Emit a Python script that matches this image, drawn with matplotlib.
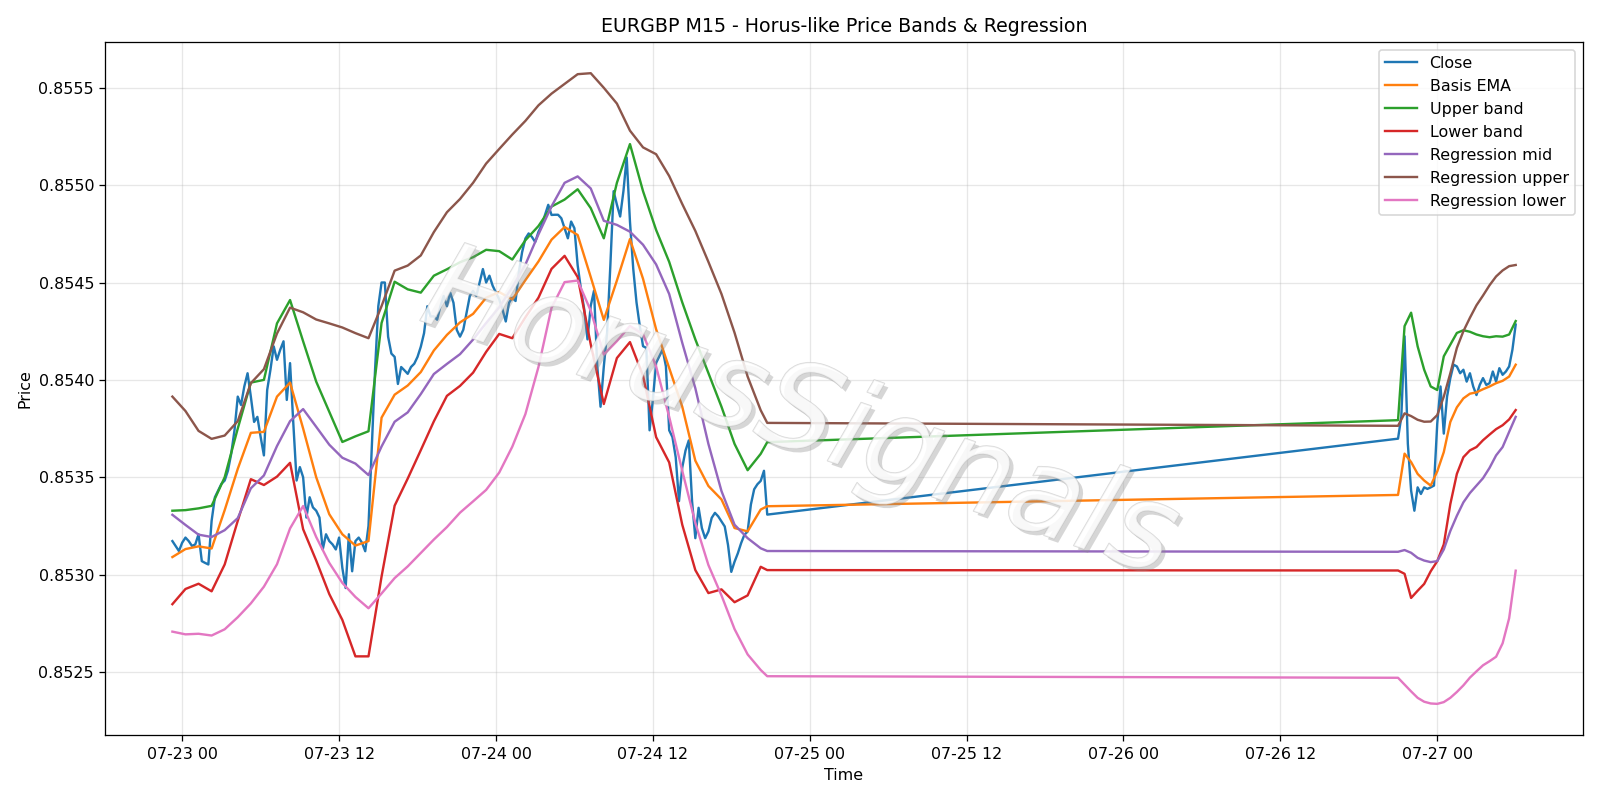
import numpy as np
import pandas as pd
import matplotlib
matplotlib.use("Agg")
import matplotlib.pyplot as plt
import matplotlib.dates as mdates
import matplotlib.patheffects as pe

#  close, 15 min bars, first block (07-22 23:15 -> 07-24 20:45)
close_1 = [
    0.853172, 0.853147, 0.853121, 0.853164, 0.85319, 0.853172, 0.853147, 0.853155, 0.853207, 0.853069,
    0.85306, 0.853052, 0.853276, 0.853397, 0.853431, 0.853466, 0.853483, 0.853534, 0.853621, 0.853741,
    0.853914, 0.853871, 0.853966, 0.854034, 0.853914, 0.853784, 0.85381, 0.853707, 0.853612, 0.853948,
    0.854052, 0.854172, 0.854103, 0.854155, 0.854198, 0.853897, 0.854086, 0.853776, 0.853483, 0.853552,
    0.8535, 0.853293, 0.853397, 0.853345, 0.853328, 0.853293, 0.853129, 0.853207, 0.853172, 0.853155,
    0.853129, 0.85319, 0.853034, 0.852931, 0.853207, 0.853017, 0.853172, 0.85319, 0.853164, 0.85312,
    0.85325, 0.853649, 0.854049, 0.854378, 0.8545, 0.8545, 0.854222, 0.854135, 0.854118, 0.853979,
    0.854066, 0.854049, 0.854031, 0.854066, 0.854083, 0.854118, 0.85417, 0.85424, 0.854378, 0.854326,
    0.854326, 0.854309, 0.854378, 0.854431, 0.854378, 0.854448, 0.854396, 0.854257, 0.854222, 0.854257,
    0.854344, 0.854431, 0.854457, 0.854431, 0.8545, 0.854569, 0.8545, 0.854535, 0.854483, 0.854448,
    0.854413, 0.854361, 0.8543, 0.854396, 0.854422, 0.854405, 0.854552, 0.854656, 0.854726, 0.854752,
    0.854734, 0.854708, 0.85476, 0.854795, 0.854847, 0.854899, 0.854847, 0.854848, 0.854848, 0.85483,
    0.854779, 0.854727, 0.854813, 0.854779, 0.854588, 0.854467, 0.854363, 0.854208, 0.854381, 0.854458,
    0.854069, 0.853862, 0.854069, 0.854242, 0.854588, 0.854969, 0.8549, 0.854839, 0.854969, 0.855142,
    0.854813, 0.854571, 0.854398, 0.854277, 0.854173, 0.854164, 0.853741, 0.853896, 0.854087, 0.854121,
    0.854156, 0.854069, 0.853741, 0.853706, 0.853602, 0.853377, 0.85355, 0.853637, 0.853689, 0.853377,
    0.853187, 0.853343, 0.853239, 0.853187, 0.853221, 0.853291, 0.853317, 0.853299, 0.853273, 0.853247,
    0.853152, 0.853014, 0.853066, 0.853109, 0.853161, 0.853204, 0.853221, 0.85336, 0.853438, 0.853464,
    0.853481, 0.853533, 0.853308,
]
#  close, second block (07-26 21:00 -> 07-27 06:00)
close_2 = [
    0.853698, 0.85381, 0.854224, 0.853672, 0.853431, 0.853328, 0.853448, 0.853414, 0.853448, 0.85344,
    0.853448, 0.853457, 0.853776, 0.853966, 0.853724, 0.853914, 0.854009, 0.854078, 0.854069, 0.854034,
    0.854052, 0.853991, 0.854034, 0.853966, 0.853922, 0.853974, 0.854009, 0.853974, 0.853983, 0.854043,
    0.853991, 0.85406, 0.854026, 0.854043, 0.854069, 0.854155, 0.854284,
]

#  indicators: hourly in first block (+ last bar), half-hourly in second block
basis_ema = [
    0.85309, 0.853131, 0.853145, 0.853134, 0.853331, 0.853543, 0.853728, 0.853733, 0.853914, 0.853986,
    0.85375, 0.8535, 0.85331, 0.853207, 0.853149, 0.853172, 0.853806, 0.853924, 0.853971, 0.85404,
    0.854151, 0.854231, 0.854295, 0.854339, 0.854422, 0.854451, 0.854413, 0.854512, 0.854608, 0.85472,
    0.854785, 0.854744, 0.854528, 0.854308, 0.85451, 0.854723, 0.854519, 0.85426, 0.854061, 0.853862,
    0.853585, 0.853455, 0.853386, 0.853239, 0.853222, 0.853334, 0.853351,
    0.853409, 0.853621, 0.853578, 0.853517, 0.853483, 0.853457, 0.85353, 0.853629, 0.853784, 0.853859,
    0.853905, 0.853929, 0.853936, 0.853952, 0.853966, 0.853983, 0.853995, 0.854017, 0.854078,
]
upper_band = [
    0.853328, 0.853331, 0.85334, 0.853353, 0.8535, 0.85375, 0.853986, 0.8540, 0.85429, 0.85441,
    0.854198, 0.853991, 0.853836, 0.853681, 0.85371, 0.853736, 0.854292, 0.854504, 0.854465, 0.854448,
    0.854535, 0.854568, 0.854604, 0.85463, 0.854668, 0.854661, 0.854618, 0.854717, 0.85479, 0.85489,
    0.854926, 0.854979, 0.854882, 0.854727, 0.855012, 0.855211, 0.854969, 0.85477, 0.854606, 0.854398,
    0.854208, 0.854035, 0.853862, 0.853671, 0.853536, 0.85362, 0.85368,
    0.853793, 0.854276, 0.854345, 0.854172, 0.854052, 0.853966, 0.853948, 0.854121, 0.854181, 0.854241,
    0.854255, 0.854247, 0.854233, 0.854224, 0.854219, 0.854224, 0.854222, 0.854233, 0.854302,
]
lower_band = [
    0.852848, 0.852926, 0.852953, 0.852914, 0.853052, 0.853276, 0.85349, 0.85346, 0.853503, 0.853574,
    0.853233, 0.853072, 0.8529, 0.852767, 0.85258, 0.85258, 0.85299, 0.853354, 0.853493, 0.853639,
    0.853787, 0.853918, 0.853969, 0.854037, 0.854144, 0.854236, 0.854214, 0.854321, 0.854422, 0.85457,
    0.854637, 0.854528, 0.854182, 0.853876, 0.854112, 0.854194, 0.854021, 0.853706, 0.853576, 0.853256,
    0.853023, 0.852905, 0.852924, 0.852858, 0.852893, 0.85304, 0.853023,
    0.853021, 0.853004, 0.85288, 0.852917, 0.852952, 0.853017, 0.853069, 0.853155, 0.853362, 0.853517,
    0.853603, 0.853638, 0.853655, 0.85369, 0.853719, 0.853747, 0.853767, 0.853797, 0.853845,
]
reg_mid = [
    0.853307, 0.853255, 0.853205, 0.853193, 0.853228, 0.85329, 0.853443, 0.853509, 0.85366, 0.853788,
    0.85385, 0.853759, 0.853667, 0.8536, 0.85357, 0.853511, 0.853658, 0.853785, 0.853833, 0.853927,
    0.85403, 0.854082, 0.854132, 0.854207, 0.854292, 0.854373, 0.854476, 0.854592, 0.854747, 0.854891,
    0.855012, 0.855045, 0.854983, 0.854817, 0.854796, 0.854761, 0.854694, 0.854593, 0.854441, 0.85419,
    0.853957, 0.853671, 0.853429, 0.853256, 0.853187, 0.853135, 0.853121,
    0.853117, 0.853126, 0.853112, 0.853086, 0.853072, 0.853064, 0.853069, 0.853129, 0.853224, 0.853302,
    0.853371, 0.853419, 0.853457, 0.853495, 0.853548, 0.853612, 0.853655, 0.853733, 0.85381,
]
reg_upper = [
    0.853914, 0.85384, 0.853738, 0.853697, 0.853714, 0.853788, 0.853983, 0.854055, 0.854238, 0.854371,
    0.854347, 0.85431, 0.85429, 0.854269, 0.85424, 0.854214, 0.854379, 0.854561, 0.854587, 0.854639,
    0.854759, 0.854861, 0.854929, 0.855012, 0.855111, 0.855186, 0.85526, 0.85533, 0.85541, 0.85547,
    0.85552, 0.85557, 0.855575, 0.8555, 0.855419, 0.85528, 0.855194, 0.855159, 0.855047, 0.854903,
    0.854765, 0.854606, 0.854441, 0.854242, 0.854017, 0.853844, 0.853779,
    0.853764, 0.853828, 0.853814, 0.853795, 0.853785, 0.853786, 0.853819, 0.853914, 0.854034, 0.854164,
    0.85425, 0.854319, 0.854383, 0.854433, 0.854486, 0.854531, 0.854562, 0.854584, 0.85459,
]
reg_lower = [
    0.852707, 0.852693, 0.852696, 0.852687, 0.852719, 0.852781, 0.852852, 0.852938, 0.853053, 0.853237,
    0.853352, 0.853193, 0.85306, 0.852957, 0.852885, 0.852827, 0.852903, 0.852982, 0.853042, 0.853111,
    0.85318, 0.853244, 0.853318, 0.853376, 0.853435, 0.853524, 0.853657, 0.853824, 0.854066, 0.85437,
    0.854502, 0.85451, 0.854355, 0.85413, 0.854199, 0.854277, 0.854234, 0.854069, 0.85381, 0.853533,
    0.853265, 0.853049, 0.852893, 0.85272, 0.85259, 0.85251, 0.852478,
    0.85247, 0.852435, 0.8524, 0.852367, 0.852347, 0.852338, 0.852336, 0.852345, 0.852367, 0.852397,
    0.852431, 0.852471, 0.852503, 0.852534, 0.852555, 0.852578, 0.852647, 0.852776, 0.85302,
]

#  time stamps
t_close = pd.date_range("2025-07-22 23:15", periods=len(close_1), freq="15min").append(
    pd.date_range("2025-07-26 21:00", periods=len(close_2), freq="15min"))
t_ind = pd.date_range("2025-07-22 23:15", periods=46, freq="1h").append(
    pd.DatetimeIndex(["2025-07-24 20:45"])).append(
    pd.date_range("2025-07-26 21:00", periods=19, freq="30min"))

fig, ax = plt.subplots(figsize=(14, 7), dpi=1600 / 14)
ax.plot(t_close, close_1 + close_2, label="Close")
ax.plot(t_ind, basis_ema, label="Basis EMA")
ax.plot(t_ind, upper_band, label="Upper band")
ax.plot(t_ind, lower_band, label="Lower band")
ax.plot(t_ind, reg_mid, label="Regression mid")
ax.plot(t_ind, reg_upper, label="Regression upper")
ax.plot(t_ind, reg_lower, label="Regression lower")

ax.xaxis.set_major_locator(mdates.HourLocator(byhour=[0, 12]))
ax.xaxis.set_major_formatter(mdates.DateFormatter("%m-%d %H"))
ax.grid(True, alpha=0.3)
ax.set_title("EURGBP M15 - Horus-like Price Bands & Regression")
ax.set_xlabel("Time")
ax.set_ylabel("Price")
ax.legend(loc="upper right")

#  watermark
ax.text(0.47, 0.46, "HorusSignals", transform=ax.transAxes, fontsize=76,
        style="italic", color="white", alpha=0.6, rotation=-19,
        ha="center", va="center", zorder=10,
        path_effects=[pe.SimplePatchShadow(offset=(2.5, -2.5), shadow_rgbFace="0.55", alpha=0.35),
                      pe.Stroke(linewidth=0.9, foreground="0.75"),
                      pe.Normal()])

plt.tight_layout()
plt.savefig("out.png")
